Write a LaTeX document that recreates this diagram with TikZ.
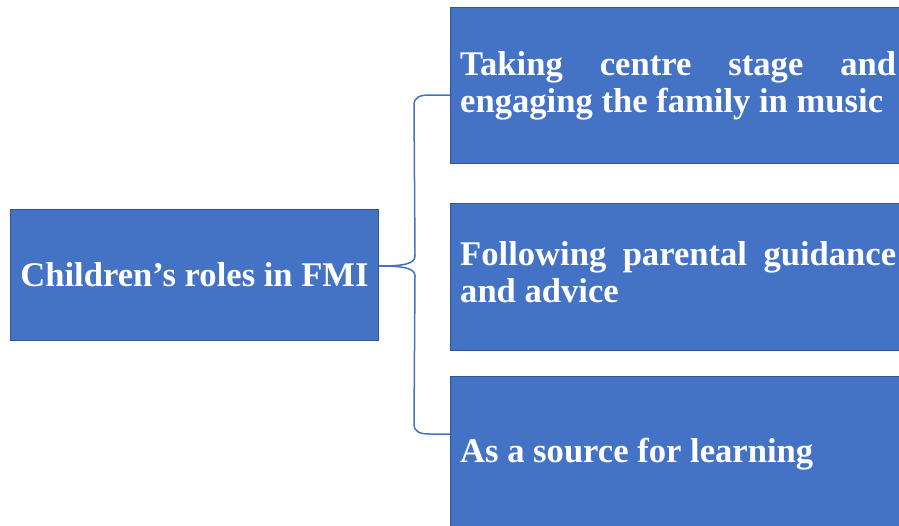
\documentclass[tikz,border=0pt]{standalone}
\usepackage{fontspec}
\setmainfont{Liberation Serif}
\usetikzlibrary{calc}
\definecolor{boxblue}{HTML}{4472C4}
\definecolor{boxedge}{HTML}{2F5597}
\newcommand{\rolepar}[1]{\parbox[t]{436pt}{\spaceskip=0pt\relax\rightskip=0pt\relax\parfillskip=0pt plus 1fil\relax #1}}
\begin{document}
\begin{tikzpicture}[x=1pt,y=-1pt,
  box/.style={draw=boxedge, line width=1pt, fill=boxblue, anchor=north west, inner sep=0pt},
  rolefont/.style={text=white, font=\fontsize{34.6}{37.5}\selectfont\bfseries},
  boxtext/.style={rolefont, anchor=base west, inner sep=0pt},
  link/.style={draw=boxblue, line width=1.5pt}]
\useasboundingbox (0,0) rectangle (899,525);
\clip (0,0) rectangle (899,525);

% central topic
\node[box, rolefont, minimum width=368pt, minimum height=131pt] (root) at (10,209) {Children’s roles in FMI};

% the three roles
\node[box, minimum width=470pt, minimum height=156pt] (b1) at (450,7) {};
\node[box, minimum width=470pt, minimum height=147pt] (b2) at (450,203) {};
\node[box, minimum width=470pt, minimum height=160pt] (b3) at (450,376) {};

% justified paragraphs, the first line of each forced to full width
\node[boxtext] (t1) at (460,75) {\rolepar{Taking centre stage and\linebreak engaging the family in music}};
\node[boxtext] (t2) at (460,265) {\rolepar{Following parental guidance\linebreak and advice}};
\node[boxtext] (t3) at (460,462) {\rolepar{As a source for learning}};

% bracket joining the topic to its roles
\coordinate (tip) at ($(root.north east)+(0,57)$);
\draw[link] (tip) .. controls ($(tip)+(24,0)$) and ($(tip)+(36,-2)$) .. ($(tip)+(36,-10)$)
  -- ($(b1.north west)+(-36,98)$)
  .. controls ($(b1.north west)+(-36,90)$) and ($(b1.north west)+(-30,88)$) .. ($(b1.north west)+(-20,88)$)
  -- ($(b1.north west)+(0,88)$);
\draw[link] (tip) .. controls ($(tip)+(24,0)$) and ($(tip)+(36,2)$) .. ($(tip)+(36,10)$)
  -- ($(b3.north west)+(-36,48)$)
  .. controls ($(b3.north west)+(-36,56)$) and ($(b3.north west)+(-30,58)$) .. ($(b3.north west)+(-20,58)$)
  -- ($(b3.north west)+(0,58)$);
\end{tikzpicture}
\end{document}
